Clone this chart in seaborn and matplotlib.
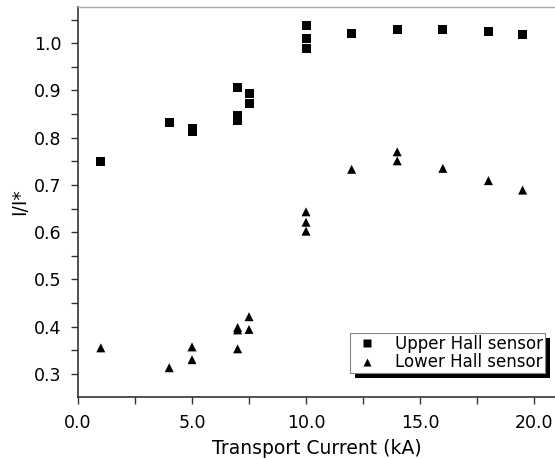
import matplotlib
matplotlib.use("Agg")
import matplotlib.pyplot as plt
import seaborn as sns
import pandas as pd
from matplotlib.patches import Rectangle
from matplotlib.ticker import MultipleLocator, FormatStrFormatter

upper_x = [1, 4, 5, 5, 7, 7, 7, 7.5, 7.5, 10, 10, 10, 12, 14, 16, 18, 19.5]
upper_y = [0.749, 0.832, 0.813, 0.819, 0.906, 0.847, 0.836, 0.893, 0.872,
           1.037, 1.009, 0.989, 1.020, 1.028, 1.029, 1.024, 1.018]
lower_x = [1, 4, 5, 5, 7, 7, 7, 7.5, 7.5, 10, 10, 10, 12, 14, 14, 16, 18, 19.5]
lower_y = [0.355, 0.313, 0.357, 0.330, 0.398, 0.393, 0.353, 0.421, 0.394,
           0.643, 0.621, 0.602, 0.733, 0.770, 0.751, 0.735, 0.709, 0.689]
series_names = ["Upper Hall sensor", "Lower Hall sensor"]

df = pd.DataFrame({
    "x": upper_x + lower_x,
    "y": upper_y + lower_y,
    "sensor": [series_names[0]] * len(upper_x) + [series_names[1]] * len(lower_x),
})

sns.set_style("ticks")
plt.rcParams["font.family"] = ["DejaVu Sans"]
plt.rcParams["text.color"] = "black"
plt.rcParams["axes.labelcolor"] = "black"

fig = plt.figure(figsize=(5.55, 4.59), dpi=100)
ax = fig.add_axes([78 / 555, 62 / 459, 477 / 555, 390 / 459])

sns.scatterplot(data=df, x="x", y="y", style="sensor", markers={series_names[0]: "s", series_names[1]: "^"},
                color="black", s=42, edgecolor="none", ax=ax, legend=True)

ax.set_xlim(0, 20.92)
ax.set_ylim(0.251, 1.0766)
ax.xaxis.set_major_locator(MultipleLocator(5))
ax.xaxis.set_minor_locator(MultipleLocator(2.5))
ax.yaxis.set_major_locator(MultipleLocator(0.1))
ax.yaxis.set_minor_locator(MultipleLocator(0.05))
ax.xaxis.set_major_formatter(FormatStrFormatter("%.1f"))
ax.yaxis.set_major_formatter(FormatStrFormatter("%.1f"))

for side in ["left", "bottom"]:
    ax.spines[side].set_color("#333333")
    ax.spines[side].set_linewidth(1.2)
ax.spines["top"].set_color("#aaaaaa")
ax.spines["top"].set_linewidth(1.0)
ax.spines["right"].set_visible(False)

ax.tick_params(which="both", direction="out", length=5, width=1.0, color="#333333",
               labelsize=12.5, labelcolor="black")
ax.tick_params(axis="y", pad=7)
ax.tick_params(axis="x", pad=7)

ax.set_xlabel("Transport Current (kA)", fontsize=13.5, labelpad=5, color="black")
ax.set_ylabel("I/I*", fontsize=13.5, labelpad=3.5, color="black")

leg = ax.legend(loc="lower right", bbox_to_anchor=(0.979, 0.0615), borderaxespad=0,
                fontsize=12, frameon=True, fancybox=False, framealpha=1,
                edgecolor="#888888", labelspacing=0.05, handletextpad=0.8,
                borderpad=0.1, handlelength=1.8, markerscale=0.8)
leg.get_frame().set_linewidth(0.8)
for t in leg.get_texts():
    t.set_color("black")

fig.canvas.draw()
bb = leg.get_window_extent()
shadow = Rectangle((bb.x0 + 5, bb.y0 - 5), bb.width, bb.height, transform=None,
                   facecolor="black", edgecolor="none", zorder=4.5)
ax.add_artist(shadow)
leg.set_zorder(5)

fig.savefig("out.png", dpi=100)
